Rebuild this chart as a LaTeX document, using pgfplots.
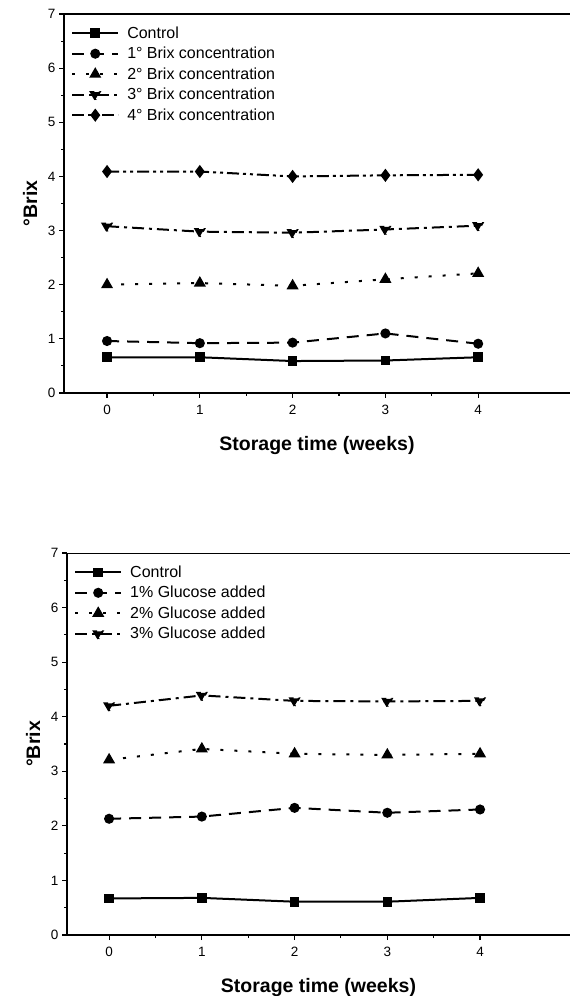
\documentclass[border=0pt]{standalone}
\usepackage{fontspec}
\setmainfont{Liberation Sans}
\usepackage{pgfplots}
\pgfplotsset{compat=1.18}
\pgfplotsset{
  brixstyle/.style={
    scale only axis,
    axis x line*=bottom, axis y line*=left,
    axis line style={-, line width=1.3pt},
    ymin=0, ymax=7,
    ytick={0,1,...,7}, minor y tick num=1,
    xtick={0,1,2,3,4}, minor x tick num=1,
    tick align=outside,
    major tick length=5pt, minor tick length=3pt,
    every tick/.style={line width=1.1pt, black},
    /pgf/number format/assume math mode=true,
    tick label style={font=\fontsize{13.5}{15}\selectfont},
    xticklabel style={yshift=-4pt},
    xlabel={Storage time (weeks)},
    ylabel={°Brix},
    label style={font=\bfseries\fontsize{19.5}{22}\selectfont},
    xlabel style={yshift=-14pt},
    ylabel style={yshift=4pt},
    legend cell align=left,
    legend style={draw=none, fill=none, font=\fontsize{16}{19}\selectfont,
      row sep=3.4pt, inner sep=1pt, at={(axis description cs:0.012,0.975)}, anchor=north west,
      /tikz/column 1/.style={column sep=6pt}},
    legend image code/.code={\draw[mark repeat=2,mark phase=2,#1] plot coordinates {(0pt,0pt) (23pt,0pt) (46pt,0pt)};},
    every axis plot/.append style={black, line width=2pt, mark options={solid, fill=black}},
  },
  s0/.style={solid, mark=square*, mark size=3.8pt},
  s1/.style={dash pattern=on 12pt off 8pt, mark=*, mark size=4pt},
  s2/.style={dash pattern=on 3pt off 11pt, mark=triangle*, mark size=5pt},
  s3/.style={dash pattern=on 12pt off 5pt on 3pt off 5pt, mark=triangle*, mark size=5pt, mark options={rotate=180}},
  s4/.style={dash pattern=on 12pt off 4pt on 3pt off 4pt on 3pt off 4pt, mark=diamond*, mark size=5pt},
}
\begin{document}
\begin{tikzpicture}[x=1pt,y=1pt]
\path[use as bounding box] (0,0) rectangle (570,996);
\begin{axis}[brixstyle, at={(64pt,603pt)}, anchor=south west,
  width=506pt, height=379pt, xmin=-0.464, xmax=4.99]
\addplot[s0] coordinates {(0,0.66) (1,0.66) (2,0.59) (3,0.60) (4,0.66)};
\addlegendentry{Control}
\addplot[s1] coordinates {(0,0.96) (1,0.92) (2,0.93) (3,1.10) (4,0.91)};
\addlegendentry{1° Brix concentration}
\addplot[s2] coordinates {(0,2.00) (1,2.03) (2,1.98) (3,2.10) (4,2.21)};
\addlegendentry{2° Brix concentration}
\addplot[s3] coordinates {(0,3.08) (1,2.98) (2,2.96) (3,3.02) (4,3.09)};
\addlegendentry{3° Brix concentration}
\addplot[s4] coordinates {(0,4.09) (1,4.09) (2,4.00) (3,4.02) (4,4.03)};
\addlegendentry{4° Brix concentration}
\draw[line width=1.3pt] (rel axis cs:0,1) -- (rel axis cs:1,1);
\end{axis}
\begin{axis}[brixstyle, at={(67pt,61pt)}, anchor=south west,
  width=503pt, height=382pt, xmin=-0.454, xmax=4.97]
\addplot[s0] coordinates {(0,0.67) (1,0.68) (2,0.61) (3,0.61) (4,0.68)};
\addlegendentry{Control}
\addplot[s1] coordinates {(0,2.13) (1,2.17) (2,2.33) (3,2.24) (4,2.30)};
\addlegendentry{1\% Glucose added}
\addplot[s2] coordinates {(0,3.21) (1,3.41) (2,3.32) (3,3.30) (4,3.32)};
\addlegendentry{2\% Glucose added}
\addplot[s3] coordinates {(0,4.20) (1,4.39) (2,4.29) (3,4.28) (4,4.29)};
\addlegendentry{3\% Glucose added}
\draw[line width=1.3pt] (rel axis cs:0,1) -- (rel axis cs:1,1);
\end{axis}
\end{tikzpicture}
\end{document}
